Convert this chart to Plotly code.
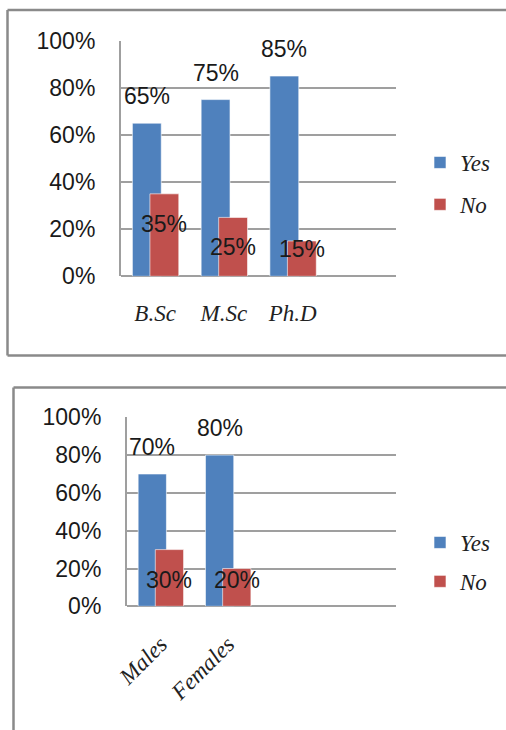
import plotly.graph_objects as go

# ---- data ----
degree_cats = ["B.Sc", "M.Sc", "Ph.D"]
degree_yes = [0.65, 0.75, 0.85]
degree_no = [0.35, 0.25, 0.15]

gender_cats = ["Males", "Females"]
gender_yes = [0.70, 0.80]
gender_no = [0.30, 0.20]

series_names = ["Yes", "No"]
y_ticks = [0, 0.2, 0.4, 0.6, 0.8, 1.0]
y_tick_text = ["0%", "20%", "40%", "60%", "80%", "100%"]

# ---- styles ----
W, H = 506, 730
BLUE = "#4F81BD"
RED = "#C0504D"
GRID = "#9f9f9f"
FRAME = "#8a8a8a"
BAR_W = 0.42
YES_OFF = -0.33
NO_OFF = -0.075
label_font = dict(family="Liberation Sans", size=23, color="#1a1a1a")
serif_italic = dict(family="Liberation Serif", size=23, color="#222222", style="italic")

# red label vertical shifts (px)
degree_no_shift = [-30, -30, -8]
gender_no_shift = [-30, -11]


def px_x(x):
    return x / W


def px_y(y):
    return 1 - y / H


fig = go.Figure()

edge = dict(color="rgba(255,255,255,0.6)", width=1)
fig.add_trace(go.Bar(x=degree_cats, y=degree_yes, name=series_names[0], marker_color=BLUE,
                     width=BAR_W, offset=YES_OFF, xaxis="x", yaxis="y", legend="legend",
                     legendgroup="a", marker_line=edge))
fig.add_trace(go.Bar(x=degree_cats, y=degree_no, name=series_names[1], marker_color=RED,
                     width=BAR_W, offset=NO_OFF, xaxis="x", yaxis="y", legend="legend",
                     legendgroup="b", marker_line=edge))
fig.add_trace(go.Bar(x=gender_cats, y=gender_yes, name=series_names[0], marker_color=BLUE,
                     width=BAR_W, offset=YES_OFF, xaxis="x2", yaxis="y2", legend="legend2",
                     legendgroup="c", marker_line=edge))
fig.add_trace(go.Bar(x=gender_cats, y=gender_no, name=series_names[1], marker_color=RED,
                     width=BAR_W, offset=NO_OFF, xaxis="x2", yaxis="y2", legend="legend2",
                     legendgroup="d", marker_line=edge))

annotations = []


def add_labels(cats, yes, no, no_shift, xr, yr):
    for i, c in enumerate(cats):
        annotations.append(dict(x=i + YES_OFF + BAR_W / 2, y=yes[i], xref=xr, yref=yr,
                                text=f"{round(yes[i]*100)}%", showarrow=False, yshift=27,
                                font=label_font))
        annotations.append(dict(x=i + NO_OFF + BAR_W / 2, y=no[i], xref=xr, yref=yr,
                                text=f"{round(no[i]*100)}%", showarrow=False, yshift=no_shift[i],
                                font=label_font))


add_labels(degree_cats, degree_yes, degree_no, degree_no_shift, "x", "y")
add_labels(gender_cats, gender_yes, gender_no, gender_no_shift, "x2", "y2")

yaxis_common = dict(range=[0, 1], tickvals=y_ticks, ticktext=y_tick_text, showgrid=True,
                    gridcolor=GRID, gridwidth=1.5, showline=True, linecolor=GRID, linewidth=1.5,
                    zeroline=True, zerolinecolor=GRID, zerolinewidth=2, ticks="",
                    tickfont=label_font, ticklabelstandoff=19, fixedrange=True,
                    automargin=False)

shapes = [
    dict(type="line", xref="paper", yref="paper", x0=px_x(7.5), x1=1.05, y0=px_y(10), y1=px_y(10),
         line=dict(color=FRAME, width=2.5)),
    dict(type="line", xref="paper", yref="paper", x0=px_x(7.5), x1=px_x(7.5), y0=px_y(10), y1=px_y(355.5),
         line=dict(color=FRAME, width=2.5)),
    dict(type="line", xref="paper", yref="paper", x0=px_x(7.5), x1=1.05, y0=px_y(355.5), y1=px_y(355.5),
         line=dict(color=FRAME, width=2.5)),
    dict(type="line", xref="paper", yref="paper", x0=px_x(13.5), x1=1.05, y0=px_y(387.5), y1=px_y(387.5),
         line=dict(color=FRAME, width=2.5)),
    dict(type="line", xref="paper", yref="paper", x0=px_x(13.5), x1=px_x(13.5), y0=px_y(387.5), y1=-0.05,
         line=dict(color=FRAME, width=2.5)),
]

legend_common = dict(font=serif_italic, bgcolor="rgba(0,0,0,0)",
                     traceorder="grouped", xanchor="left", yanchor="top", itemclick=False)

fig.update_layout(
    template="none",
    width=W, height=H, margin=dict(l=0, r=0, t=0, b=0, pad=0), autosize=False,
    paper_bgcolor="white", plot_bgcolor="white", barmode="overlay",
    xaxis=dict(domain=[px_x(120.7), px_x(395.7)], type="category", categoryarray=degree_cats,
               categoryorder="array", range=[-0.5, 3.5], showgrid=False, showline=False,
               zeroline=False, tickfont=serif_italic, ticklabelstandoff=21, anchor="y",
               ticks="", fixedrange=True, automargin=False),
    yaxis=dict(domain=[px_y(276.3), px_y(40.7)], anchor="x", **yaxis_common),
    xaxis2=dict(domain=[px_x(126.7), px_x(396)], type="category", categoryarray=gender_cats,
                categoryorder="array", range=[-0.5, 3.5], showgrid=False, showline=False,
                zeroline=False, tickfont=serif_italic, tickangle=-45, ticklabelstandoff=19,
                anchor="y2", ticks="", fixedrange=True, automargin=False),
    yaxis2=dict(domain=[px_y(606.3), px_y(417.3)], anchor="x2", **yaxis_common),
    legend=dict(x=px_x(420), y=px_y(141), tracegroupgap=9, **legend_common),
    legend2=dict(x=px_x(420), y=px_y(521), tracegroupgap=6, **legend_common),
    annotations=annotations,
    shapes=shapes,
    showlegend=True,
)

fig.write_html("out.html")
